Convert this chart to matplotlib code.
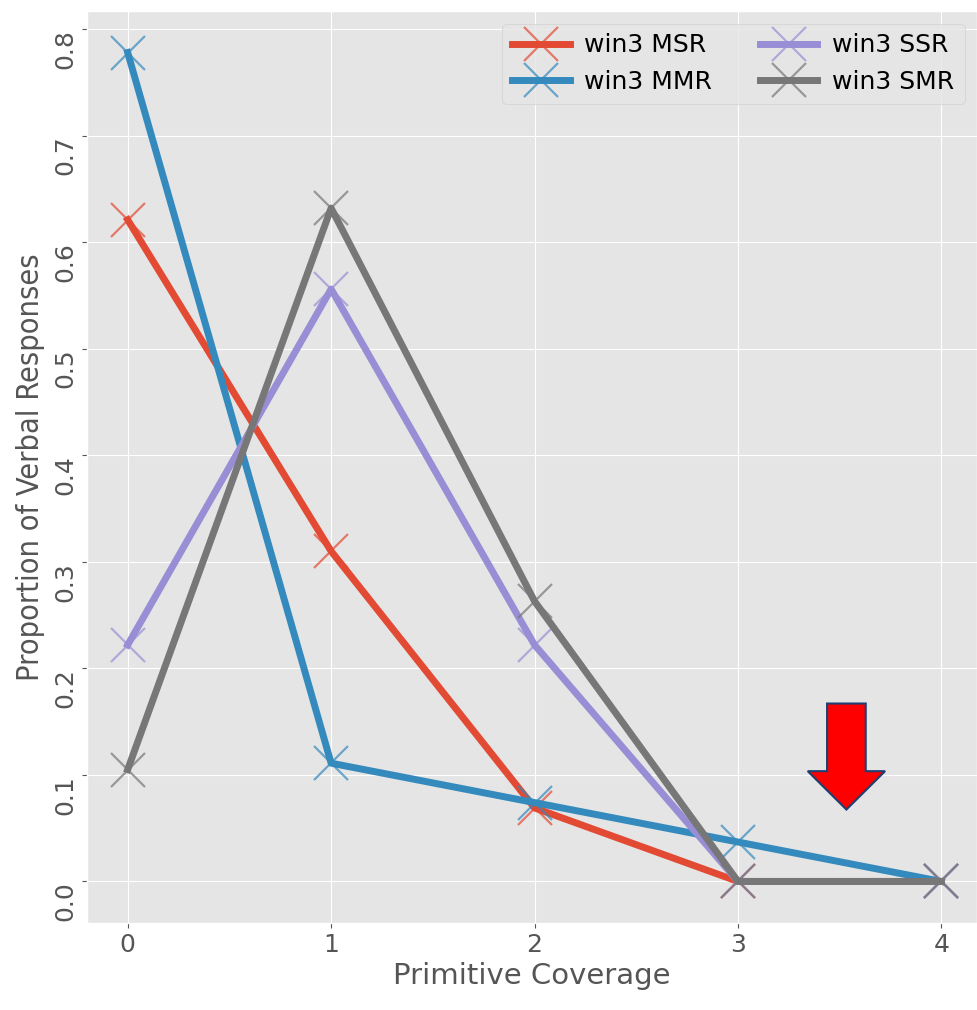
import matplotlib
matplotlib.use("Agg")
import matplotlib.pyplot as plt
import numpy as np

plt.style.use("ggplot")

coverage = [0, 1, 2, 3, 4]
win3_msr = [0.621, 0.310, 0.069, 0.0, 0.0]
win3_mmr = [0.778, 0.111, 0.074, 0.037, 0.0]
win3_ssr = [0.222, 0.556, 0.222, 0.0, 0.0]
win3_smr = [0.105, 0.632, 0.263, 0.0, 0.0]

series = [("win3 MSR", win3_msr), ("win3 MMR", win3_mmr),
          ("win3 SSR", win3_ssr), ("win3 SMR", win3_smr)]
colors = ["#E24A33", "#348ABD", "#988ED5", "#777777"]

fig = plt.figure(figsize=(9.77, 10.10), dpi=100)
ax = fig.add_axes([87 / 977, 87 / 1010, 890 / 977, 912 / 1010])

for (name, vals), c in zip(series, colors):
    ax.plot(coverage, vals, color=c, lw=5, marker="x", markersize=24,
            mew=1.6, mec=matplotlib.colors.to_rgba(c, 0.7), label=name)

ax.set_xlim(-0.2, 4.175)
ax.set_ylim(-0.039, 0.817)
ax.set_xticks(coverage)
ax.set_yticks(np.arange(0, 0.81, 0.1))
ax.tick_params(axis="both", labelsize=18, colors="#555555")
ax.tick_params(axis="y", labelrotation=90)
for t in ax.get_yticklabels():
    t.set_verticalalignment("top")
ax.set_xlabel("Primitive Coverage", fontsize=21, color="#555555")
ax.set_ylabel("Proportion of Verbal Responses", fontsize=22, color="#555555",
              fontstretch="condensed", labelpad=6)

ax.legend(loc="upper right", ncol=2, fontsize=18, numpoints=1,
          handlelength=2.3, handletextpad=0.6, columnspacing=1.9)

# red arrow annotation
arr_x, arr_top, arr_tip = 3.533, 0.167, 0.0675
ax.arrow(arr_x, arr_top, 0, arr_tip - arr_top, width=0.19, head_width=0.38,
         head_length=0.036, length_includes_head=True,
         facecolor="#FF0000", edgecolor="#1F3F70", lw=1.5, zorder=5)

fig.savefig("out.png", dpi=100)
